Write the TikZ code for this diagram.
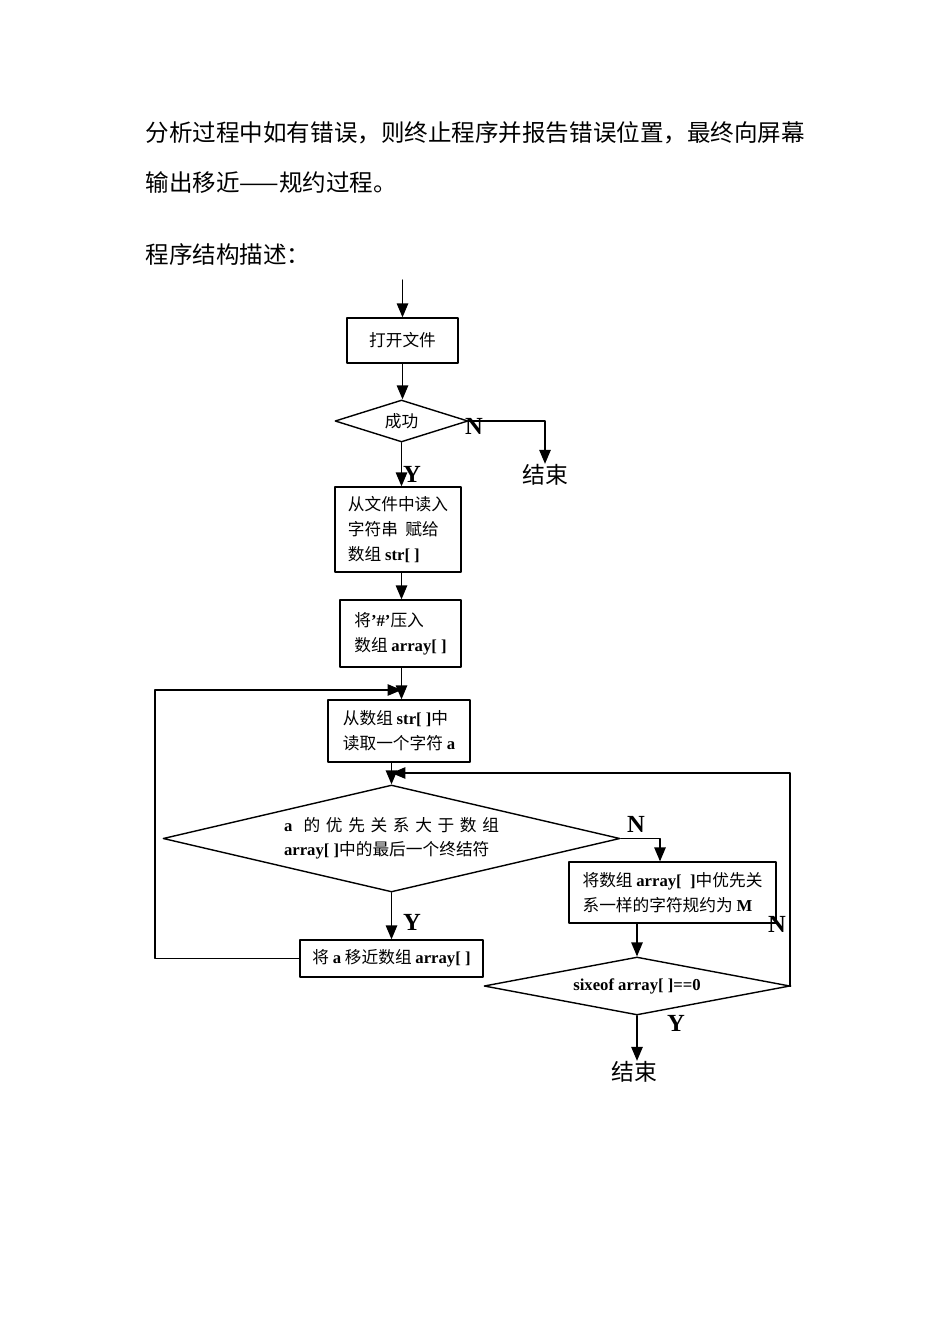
\documentclass[tikz,border=0pt]{standalone}
\usepackage{fontspec}
\usepackage{tikz}
\usetikzlibrary{arrows,shapes.geometric}
\setmainfont{Liberation Serif}
\newfontfamily\cjk{Noto Sans CJK SC}
\newcommand{\bw}[1]{{\rmfamily\bfseries #1}}

\begin{document}
\begin{tikzpicture}[line cap=round,line join=round,>=triangle 45,x=0.02cm,y=-0.02cm,
    line width=0.8pt,
    box/.style={draw,rectangle,inner sep=0pt,align=left,font=\cjk\fontsize{9.5}{14.2}\selectfont},
    dec/.style={draw,diamond,inner sep=0pt,align=center,font=\cjk\fontsize{9.5}{13.6}\selectfont},
    para/.style={anchor=west,inner sep=0pt,font=\cjk\fontsize{13.4}{16}\selectfont},
    stopword/.style={inner sep=0pt,font=\cjk\fontsize{13}{15}\selectfont},
    yn/.style={inner sep=0pt,font=\fontsize{14}{16}\selectfont\bfseries}]
        \useasboundingbox (0,0) rectangle (950,1344);
        \node[para] (l1) at (145,133) {分析过程中如有错误，则终止程序并报告错误位置，最终向屏幕};
        \node[para] (l2) at (145,183) {输出移近——规约过程。};
        \node[para] (l3) at (145,255) {程序结构描述：};
        \coordinate (top) at (402.5,280);
        \node[box,minimum width=2.22cm,minimum height=0.9cm] (open) at (402.5,340.5) {打开文件};
        \node[dec,minimum width=2.66cm,minimum height=0.84cm,shape aspect=3.2] (ok) at (401.5,421) {成功};
        \node[stopword] (stop1) at (545,475) {结束};
        \node[box,minimum width=2.52cm,minimum height=1.7cm] (read) at (398,529.5) {从文件中读入\\字符串\ \ 赋给\\数组 \bw{str[ ]}};
        \node[box,minimum width=2.42cm,minimum height=1.34cm] (push) at (400.5,633.5) {将\bw{’\#’}压入\\数组 \bw{array[ ]}};
        \coordinate (loop) at (155,690);
        \node[box,minimum width=2.84cm,minimum height=1.24cm] (get) at (399,731) {从数组 \bw{str[ ]}中\\读取一个字符 \bw{a}};
        \coordinate (back) at (790,773);
        \node[dec,minimum width=9.14cm,minimum height=2.14cm,shape aspect=4.27] (cmp) at (391.5,838.5)
            {\makebox[4.3cm][s]{\bw{a}\hfill\hfill 的\hfill 优\hfill 先\hfill 关\hfill 系\hfill 大\hfill 于\hfill 数\hfill 组}\\
             \makebox[4.3cm][l]{\bw{array[ ]}中的最后一个终结符}};
        \node[box,minimum width=4.14cm,minimum height=1.22cm] (reduce) at (672.5,892.5) {将数组 \bw{array[\ \ ]}中优先关\\系一样的字符规约为 \bw{M}};
        \node[box,minimum width=3.66cm,minimum height=0.74cm] (shift) at (391.5,958.5) {将 \bw{a} 移近数组 \bw{array[ ]}};
        \node[dec,minimum width=6.12cm,minimum height=1.16cm,shape aspect=5.3] (empty) at (637,986) {\bw{sixeof array[ ]==0}};
        \node[stopword] (stop2) at (634,1072) {结束};
        % connectors
        \draw[->] (top) -- (open.north);
        \draw[->] (open.south) -- (open.south |- ok.north);
        \draw[->] (ok.east) -| (stop1.north);
        \draw[->] (ok.south) -- (ok.south |- read.north);
        \draw[->] (ok.south |- read.south) -- (ok.south |- push.north);
        \draw[->] (ok.south |- push.south) -- (ok.south |- get.north);
        \draw[->] (shift.west) -| (loop) -- (loop -| ok.south);
        \draw[->] (cmp.north |- get.south) -- (cmp.north);
        \draw[->] (empty.east) -| (back) -- (back -| cmp.north);
        \draw[->] (cmp.east) -| ([xshift=-0.25cm]reduce.north);
        \draw[->] (cmp.south) -- (shift.north);
        \draw[->] (empty.north |- reduce.south) -- (empty.north);
        \draw[->] (empty.south) -- (empty.south |- stop2.north);
        % Y / N marks
        \node[yn] (n1) at (474,426) {N};
        \node[yn] (y1) at (412,474) {Y};
        \node[yn] (n2) at (636,824) {N};
        \node[yn] (y2) at (412,922) {Y};
        \node[yn] (n3) at (777,924) {N};
        \node[yn] (y3) at (676,1023) {Y};
    \end{tikzpicture}
\end{document}
